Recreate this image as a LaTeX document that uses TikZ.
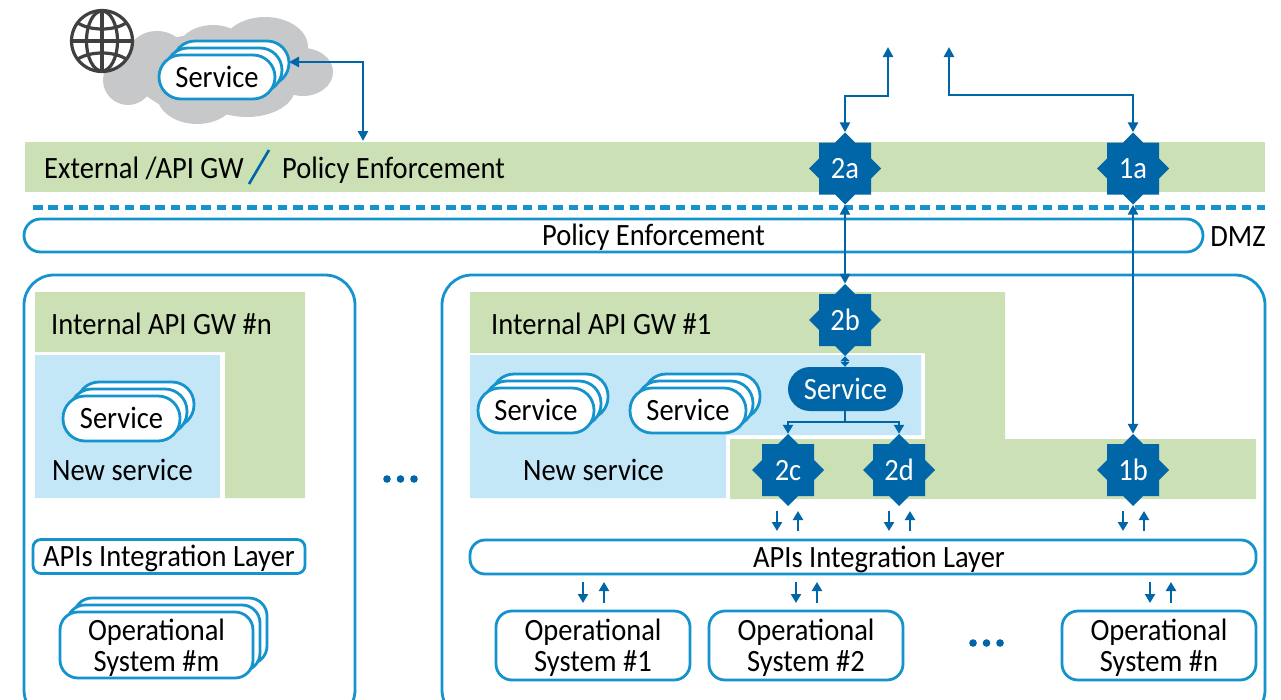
\documentclass[tikz,border=0pt]{standalone}
\usepackage{fontspec}
\setmainfont{Carlito}[FakeStretch=0.92]
\usetikzlibrary{arrows.meta}
\definecolor{ltblue}{HTML}{1593CC}
\definecolor{dkblue}{HTML}{0066A8}
\definecolor{gwgreen}{HTML}{CBE0B4}
\definecolor{newblue}{HTML}{C3E7F7}
\definecolor{cloudgray}{HTML}{C6C8CA}
\definecolor{globegray}{HTML}{404040}
\newcommand{\labfont}{\fontsize{31}{31}\selectfont}
\newcommand{\twolines}[2]{\rule{0pt}{27pt}#1\\\rule[-6pt]{0pt}{6pt}#2}
\tikzset{
  lab/.style={font=\labfont,text=black,inner sep=0pt},
  oneline/.style={text height=26pt,text depth=6pt},
  pill/.style={draw=ltblue,line width=2.8pt,fill=white,rounded corners=#1,inner sep=0pt},
  pill/.default=16pt,
  conn/.style={draw=dkblue,line width=2.5pt,{Triangle[length=10pt,width=10pt]}-{Triangle[length=10pt,width=10pt]}},
  stub/.style={draw=dkblue,line width=2.5pt,{Triangle[length=5pt,width=9pt]}-{Triangle[length=5pt,width=9pt]}},
  oneway/.style={draw=dkblue,line width=2.5pt,-{Triangle[length=9pt,width=10pt]}},
  tree/.style={draw=dkblue,line width=2.5pt},
  badge/.style={circle,minimum size=72pt,inner sep=0pt,text=white,font=\labfont,oneline},
}
\newcommand{\badgeat}[4]{%
  \fill[dkblue] (#2-36,#3) -- (#2-26,#3-10) -- (#2-26,#3-26) -- (#2-10,#3-26) -- (#2,#3-36) -- (#2+10,#3-26) -- (#2+26,#3-26) -- (#2+26,#3-10) -- (#2+36,#3) -- (#2+26,#3+10) -- (#2+26,#3+26) -- (#2+10,#3+26) -- (#2,#3+36) -- (#2-10,#3+26) -- (#2-26,#3+26) -- (#2-26,#3+10) -- cycle;
  \node[badge] (#1) at (#2,#3) {#4};}
\newcommand{\pillstack}[8]{% name, x1,y1,x2,y2,radius,style,text
  \foreach \d in {2,1}{\draw[pill=#6] (#2+7*\d,#3-7*\d) rectangle (#4+7*\d,#5-7*\d);}
  \node[pill=#6,minimum width=#4pt-#2pt,minimum height=#5pt-#3pt,align=center,font=\labfont,#7] (#1) at ({(#2+#4)/2},{(#3+#5)/2}) {#8};}
\begin{document}
\begin{tikzpicture}[x=1pt,y=-1pt]
\useasboundingbox (0,0) rectangle (1281,699);
\clip (0,0) rectangle (1281,699);
% cloud
\fill[cloudgray]
 (122,80) -- (150,42) -- (205,32) -- (300,40) -- (320,72) -- (290,95) -- (230,115) -- (160,105) -- cycle
 (128,80) circle[radius=25]
 (157,57) ellipse[x radius=30,y radius=26]
 (213,55) ellipse[x radius=38,y radius=30]
 (265,47) ellipse[x radius=43,y radius=30]
 (303,72) ellipse[x radius=30,y radius=24]
 (197,95) ellipse[x radius=40,y radius=29]
 (247,88) ellipse[x radius=48,y radius=29];
% globe
\begin{scope}[globegray,line width=3.2pt]
 \fill[white] (102,41) circle[radius=31];
 \draw (102,41) circle[radius=30.5];
 \draw (102,10) -- (102,72);
 \draw (71,41) -- (133,41);
 \draw (102,41) ellipse[x radius=15.5,y radius=30];
 \draw (78,23) .. controls (90,31) and (114,31) .. (126,23);
 \draw (78,59) .. controls (90,51) and (114,51) .. (126,59);
\end{scope}
\pillstack{svctop}{159}{55}{275}{99}{22pt}{oneline}{Service}
% external bar
\fill[gwgreen] (25,142) rectangle (1265,192);
\node[lab,oneline,anchor=west] (extlab) at (44,168) {External /API GW};
\draw[dkblue,line width=2.6pt] (249,184) -- (269,150);
\node[lab,oneline,anchor=west] (extpol) at (282,168) {Policy Enforcement};
% dashed DMZ line
\draw[ltblue,line width=5pt,dash pattern=on 9.5pt off 5.8pt] (33,207.5) -- (1265,207.5);
\node[pill=16.5pt,minimum width=1179pt,minimum height=33pt,lab,oneline] (pep) at (613.5,235.5) {\hspace*{80pt}Policy Enforcement};
\node[lab,oneline] (dmz) at (1238,236) {DMZ};
% left domain
\draw[pill=30pt] (24,275) rectangle (355,720);
\fill[gwgreen] (35,292) -- (305,292) -- (305,498) -- (225,498) -- (225,352) -- (35,352) -- cycle;
\fill[newblue] (35,355) rectangle (220,498);
\node[lab,oneline,anchor=west] (gwn) at (51,324) {Internal API GW \#n};
\pillstack{svcn}{63}{396}{180}{441}{22pt}{oneline}{Service}
\node[lab,oneline,anchor=west] (newn) at (52,470) {New service};
\node[pill=8pt,minimum width=272pt,minimum height=34pt,lab,oneline] (apin) at (169,556.5) {APIs Integration Layer};
\pillstack{opm}{60}{612}{253}{678}{18pt}{}{\twolines{Operational}{System \#m}}
% right domain
\draw[pill=30pt] (442,275) rectangle (1265,720);
\fill[gwgreen] (470,292) -- (1005,292) -- (1005,439) -- (1256,439) -- (1256,499) -- (730,499) -- (730,439) -- (925,439) -- (925,353) -- (470,353) -- cycle;
\fill[newblue] (470,355) -- (921,355) -- (921,435) -- (726,435) -- (726,498) -- (470,498) -- cycle;
\node[lab,oneline,anchor=west] (gw1) at (491,324) {Internal API GW \#1};
\node[lab,oneline,anchor=west] (new1) at (523,470) {New service};
\pillstack{svca}{478}{388}{594}{433}{22pt}{oneline}{Service}
\pillstack{svcb}{630}{388}{746}{433}{22pt}{oneline}{Service}
\node[fill=dkblue,rounded corners=22pt,minimum width=115pt,minimum height=44pt,inner sep=0pt,text=white,font=\labfont,oneline] (svcmain) at (845.5,389) {Service};
% dots
\foreach \x/\y in {387/479,400.5/479,414/479,973/643,986.5/643,1000/643}
  \fill[dkblue] (\x,\y) circle[radius=3.8];
% badges
\badgeat{ba}{845}{168.5}{2a}
\badgeat{aa}{1133}{168.5}{1a}
\badgeat{bb}{845}{320}{2b}
\badgeat{bc}{788}{470}{2c}
\badgeat{bd}{899}{470}{2d}
\badgeat{ab}{1133}{470}{1b}
% lower layers
\node[pill=15pt,minimum width=786pt,minimum height=34pt,lab,oneline] (api1) at (863,557) {\hspace*{32pt}APIs Integration Layer};
\node[pill=16pt,minimum width=194pt,minimum height=69pt,align=center,lab] (op1) at (593,645.5) {\twolines{Operational}{System \#1}};
\node[pill=16pt,minimum width=194pt,minimum height=69pt,align=center,lab] (op2) at (806,645.5) {\twolines{Operational}{System \#2}};
\node[pill=16pt,minimum width=194pt,minimum height=69pt,align=center,lab] (opn) at (1159,645.5) {\twolines{Operational}{System \#n}};
% connectors top
\coordinate (svcend) at (289,62);
\coordinate (barhit) at (363,141);
\draw[conn] (svcend) -| (barhit);
\coordinate (outa) at (888,47);
\coordinate (outb) at (949,47);
\draw[conn] (ba.north) -- (845,96) -| (outa);
\draw[conn] (aa.north) -- (1133,95) -| (outb);
\draw[conn] (ba.south) -- (bb.north);
\draw[conn] (aa.south) -- (ab.north);
\draw[stub] (bb.south) -- (svcmain.north -| bb.south);
% service tree
\draw[tree] (svcmain.south -| bb.south) -- (845,422);
\draw[tree,-{Triangle[length=9pt,width=10pt]}] (845,422) -| (bc.north);
\draw[tree,-{Triangle[length=9pt,width=10pt]}] (845,422) -| (bd.north);
% small arrows
\foreach \n/\x/\y in {p1/777/1,p2/889/1,p3/1123/1,p4/583/2,p5/796/2,p6/1150/2}{
  \ifnum\y=1
    \coordinate (\n t) at (\x,511); \coordinate (\n b) at (\x,531);
    \coordinate (\n u) at (\x+21,531); \coordinate (\n v) at (\x+21,511);
  \else
    \coordinate (\n t) at (\x,582); \coordinate (\n b) at (\x,603);
    \coordinate (\n u) at (\x+21,603); \coordinate (\n v) at (\x+21,582);
  \fi
  \draw[oneway] (\n t) -- (\n b);
  \draw[oneway] (\n u) -- (\n v);
}
\end{tikzpicture}
\end{document}
